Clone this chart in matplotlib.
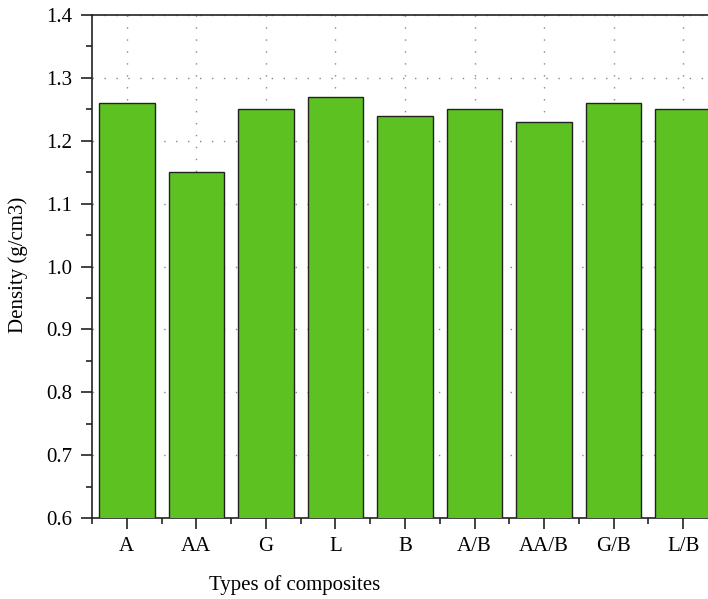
import matplotlib.pyplot as plt
from matplotlib.ticker import MultipleLocator

plt.rcParams['font.family'] = ['Liberation Serif', 'DejaVu Serif']

composites = ["A", "AA", "G", "L", "B", "A/B", "AA/B", "G/B", "L/B"]
density = [1.26, 1.15, 1.25, 1.27, 1.24, 1.25, 1.23, 1.26, 1.25]

fig = plt.figure(figsize=(7.08, 5.99), dpi=100)
# the right edge of the plot is cut off in the reference
ax = fig.add_axes([92 / 708, 81 / 599, 626 / 708, 503 / 599])

x = range(len(composites))
ax.bar(x, density, width=0.8, color="#5dc122", edgecolor="#222222", linewidth=1.0, zorder=3)

ax.set_xlim(-0.5, len(composites) - 0.5)
ax.set_ylim(0.6, 1.4)
ax.set_xticks(list(x))
ax.set_xticklabels(composites)
ax.xaxis.set_minor_locator(MultipleLocator(1, offset=0.5))
ax.yaxis.set_major_locator(MultipleLocator(0.1))
ax.yaxis.set_minor_locator(MultipleLocator(0.05))
ax.yaxis.set_major_formatter(plt.FuncFormatter(lambda v, p: f"{v:.1f}"))

ax.grid(True, which="major", linestyle=(0, (1, 7.6)), color="#888888", linewidth=1.0, zorder=0)
ax.tick_params(which="major", direction="out", length=8, width=1.2, labelsize=15, color="#222222", pad=6)
ax.tick_params(which="minor", direction="out", length=4, width=1.2, color="#222222")
for s in ax.spines.values():
    s.set_linewidth(1.2)
    s.set_color("#222222")

fig.text(295 / 708, 1 - 585 / 599, "Types of composites", ha="center", va="center", fontsize=15)
fig.text(18 / 708, 1 - 265 / 599, "Density (g/cm3)", ha="center", va="center", rotation=90, fontsize=15)

fig.savefig("out.png", dpi=100)
